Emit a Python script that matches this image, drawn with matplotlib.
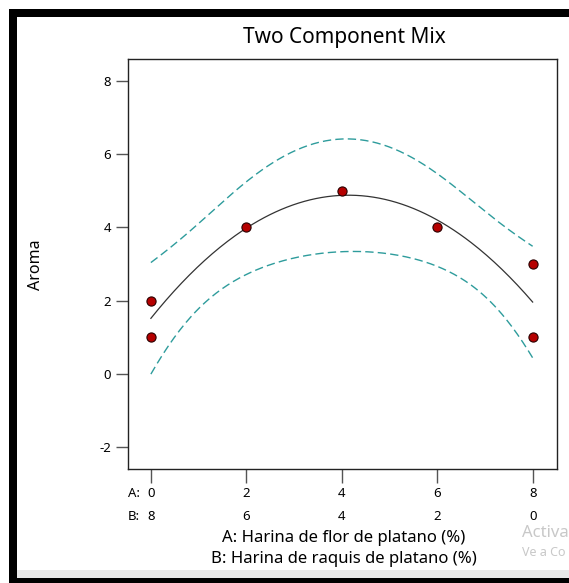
import numpy as np
import matplotlib.pyplot as plt
from matplotlib.patches import Rectangle

plt.rcParams['font.family'] = ['Noto Sans', 'DejaVu Sans']
plt.rcParams['axes.unicode_minus'] = False

# design points: A = harina de flor (%), B = 8 - A
flor = [0, 0, 2, 4, 6, 8, 8]
aroma = [2, 1, 4, 5, 4, 3, 1]
a_ticks = [0, 2, 4, 6, 8]
b_ticks = [8, 6, 4, 2, 0]
y_ticks = [-2, 0, 2, 4, 6, 8]

# quadratic mixture fit and 95% confidence band for the mean
x = np.array(flor, float)
y = np.array(aroma, float)
X = np.column_stack([np.ones_like(x), x, x**2])
coef = np.linalg.lstsq(X, y, rcond=None)[0]
dof = len(x) - 3
s2 = np.sum((y - X @ coef) ** 2) / dof
cov = s2 * np.linalg.inv(X.T @ X)
xs = np.linspace(0, 8, 200)
Xs = np.column_stack([np.ones_like(xs), xs, xs**2])
fit = Xs @ coef
se = np.sqrt(np.einsum('ij,jk,ik->i', Xs, cov, Xs))
t95 = 2.776  # t(0.975, 4 df)

W, H = 569, 583
fig = plt.figure(figsize=(W / 100, H / 100), dpi=100)

def px(x0, y0, w, h):
    return [x0 / W, 1 - (y0 + h) / H, w / W, h / H]

# screenshot frame
for (x0, y0, w, h, c) in [(9, 9, 560, 8, '#000000'), (9, 9, 8, 574, '#000000'),
                          (17, 570, 552, 8, '#e8e8e8'), (17, 578, 552, 5, '#000000')]:
    fig.patches.append(Rectangle((x0 / W, 1 - (y0 + h) / H), w / W, h / H,
                                 transform=fig.transFigure, color=c, lw=0))

ax = fig.add_axes(px(127.5, 58.5, 429, 410.5))
ax.set_xlim(-0.49, 8.5)
ax.set_ylim(-2.59, 8.6)

teal = '#2e9c9c'
ax.plot(xs, fit + t95 * se, color=teal, lw=1, ls=(0, (6, 3)))
ax.plot(xs, fit - t95 * se, color=teal, lw=1, ls=(0, (6, 3)))
ax.plot(xs, fit, color='#333333', lw=0.9)
ax.plot(flor, aroma, 'o', ms=6.6, mfc='#b50000', mec='#2a0000', mew=0.8, zorder=5)

for s in ax.spines.values():
    s.set_linewidth(1)
    s.set_color('#222222')

ax.set_yticks(y_ticks)
ax.set_xticks(a_ticks)
ax.set_xticklabels([])
ax.tick_params(axis='y', length=9, width=1, color='#555555', labelsize=9.5, pad=3)
ax.tick_params(axis='x', length=10, width=1, color='#555555')

tr = ax.get_xaxis_transform()
for a, b in zip(a_ticks, b_ticks):
    ax.text(a, -0.0585, str(a), transform=tr, ha='center', va='center', fontsize=9.5)
    ax.text(a, -0.1145, str(b), transform=tr, ha='center', va='center', fontsize=9.5)
ax.text(-0.49, -0.0585, 'A:', transform=tr, ha='left', va='center', fontsize=9.5)
ax.text(-0.49, -0.1145, 'B:', transform=tr, ha='left', va='center', fontsize=9.5)

fig.text(344 / W, 1 - 37 / H, 'Two Component Mix', ha='center', va='center', fontsize=15)
fig.text(344 / W, 1 - 538 / H, 'A: Harina de flor de platano (%)', ha='center', va='center', fontsize=12)
fig.text(344 / W, 1 - 559 / H, 'B: Harina de raquis de platano (%)', ha='center', va='center', fontsize=12)
fig.text(36 / W, 1 - 265 / H, 'Aroma', rotation=90, ha='center', va='center', fontsize=11.5)

# activation watermark at the corner (cut by the screen edge)
fig.text(522 / W, 1 - 533 / H, 'Activa', color='#c8c8c8', fontsize=12, va='center')
fig.text(522 / W, 1 - 553 / H, 'Ve a Co', color='#c8c8c8', fontsize=9, va='center')

fig.savefig('out.png', dpi=100)
